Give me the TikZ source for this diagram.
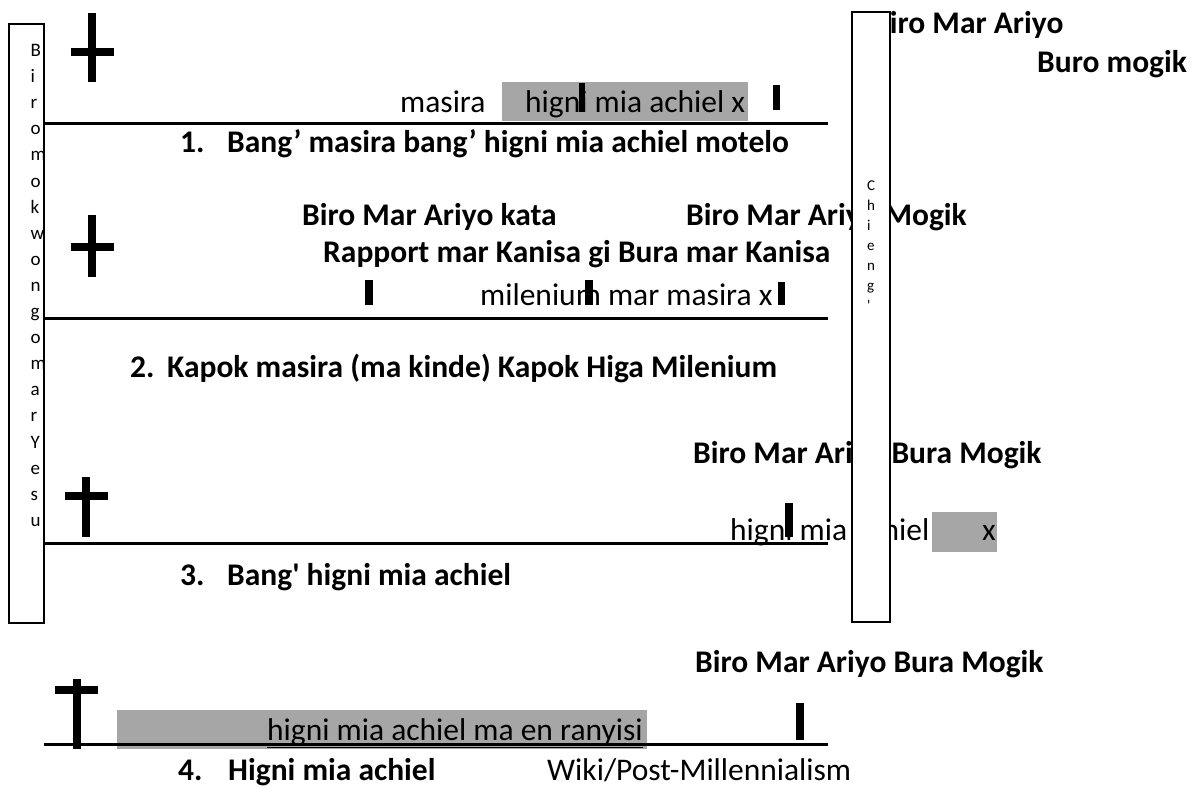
\documentclass[tikz,border=0pt]{standalone}
\usepackage{fontspec}
\setmainfont{Carlito}[Ligatures=TeXOff]
\definecolor{hlgray}{HTML}{A6A6A6}
\begin{document}
\begin{tikzpicture}[x=1pt,y=-1pt,
  txt/.style={anchor=base west,inner sep=0pt,font=\fontsize{31.5}{38}\selectfont},
  btxt/.style={anchor=base west,inner sep=0pt,font=\fontsize{31.5}{38}\selectfont\bfseries},
  hl/.style={fill=hlgray},
  rule/.style={line width=3pt},
  barmark/.style={fill=black},
  crossbar/.style={fill=black},
  sidebox/.style={draw=black,fill=white,line width=1.5pt},
  vletterL/.style={anchor=base west,inner sep=0pt,font=\fontsize{19}{22}\selectfont},
  vletterR/.style={anchor=base west,inner sep=0pt,font=\fontsize{15}{18}\selectfont},
]
\useasboundingbox[fill=white] (0,0) rectangle (1201,788);

% gray highlights
\fill[hl] (502,82) rectangle (748,121);
\fill[hl] (932,512) rectangle (997,552);
\fill[hl] (117,710) rectangle (647,749);

% section 1
\node[txt] (t1a) at (400,112) {masira};
\node[txt] (t1b) at (525,112) {higni mia achiel x};
\node[btxt] (t1c) at (872,33) {Biro Mar Ariyo};
\node[btxt] (t1d) at (1037,72) {Buro mogik};
\node[btxt] (t1n) at (180,152) {1.};
\node[btxt] (t1e) at (227,152) {Bang’ masira bang’ higni mia achiel motelo};

% section 2
\node[btxt] (t2a) at (302,225) {Biro Mar Ariyo kata};
\node[btxt] (t2b) at (686,225) {Biro Mar Ariyo Mogik};
\node[btxt] (t2c) at (323,262) {Rapport mar Kanisa gi Bura mar Kanisa};
\node[txt] (t2d) at (480,305) {milenium mar masira x};
\node[btxt] (t2n) at (130,377) {2.};
\node[btxt] (t2e) at (167,377) {Kapok masira (ma kinde) Kapok Higa Milenium};

% section 3
\node[btxt] (t3a) at (693,463) {Biro Mar Ariyo Bura Mogik};
\node[txt] (t3b) at (730,540) {higni mia achiel};
\node[txt] (t3x) at (982,540) {x};
\node[btxt] (t3n) at (180,585) {3.};
\node[btxt] (t3e) at (227,585) {Bang' higni mia achiel};

% section 4
\node[btxt] (t4a) at (695,672) {Biro Mar Ariyo Bura Mogik};
\node[txt] (t4b) at (267,740) {\underline{higni mia achiel ma en ranyisi}};
\node[btxt] (t4n) at (178,780) {4.};
\node[btxt] (t4e) at (228,780) {Higni mia achiel};
\node[txt] (t4w) at (547,780) {Wiki/Post-Millennialism};

% time lines
\draw[rule] (44,123) -- (828,123);
\draw[rule] (44,318) -- (828,318);
\draw[rule] (44,543) -- (828,543);
\draw[rule] (44,744) -- (828,744);

% small marks
\fill[barmark] (579,83) rectangle (585,112);
\fill[barmark] (773,85) rectangle (780,110);
\fill[barmark] (365,280) rectangle (373,305);
\fill[barmark] (585,280) rectangle (593,305);
\fill[barmark] (778,282) rectangle (785,305);
\fill[barmark] (785,503) rectangle (793,537);
\fill[barmark] (796,703) rectangle (804,740);

% crosses
\fill[crossbar] (88,13) rectangle (96,82);
\fill[crossbar] (71,48) rectangle (114,56);
\fill[crossbar] (88,215) rectangle (96,277);
\fill[crossbar] (71,243) rectangle (114,251);
\fill[crossbar] (82,477) rectangle (90,537);
\fill[crossbar] (65,492) rectangle (108,500);
\fill[crossbar] (73,679) rectangle (81,749);
\fill[crossbar] (55,686) rectangle (98,694);

% side boxes
\draw[sidebox] (9,24) rectangle (44,623);
\draw[sidebox] (852,12) rectangle (890,622);

\foreach \c [count=\i from 0] in {B,i,r,o,m,o,k,w,o,n,g,o,m,a,r,Y,e,s,u}
  \node[vletterL] (l\i) at (30.5,56.5+26.1*\i) {\c};
\foreach \c [count=\i from 0] in {C,h,i,e,n,g,'}
  \node[vletterR] (r\i) at (867,190+20*\i) {\c};
\end{tikzpicture}
\end{document}
